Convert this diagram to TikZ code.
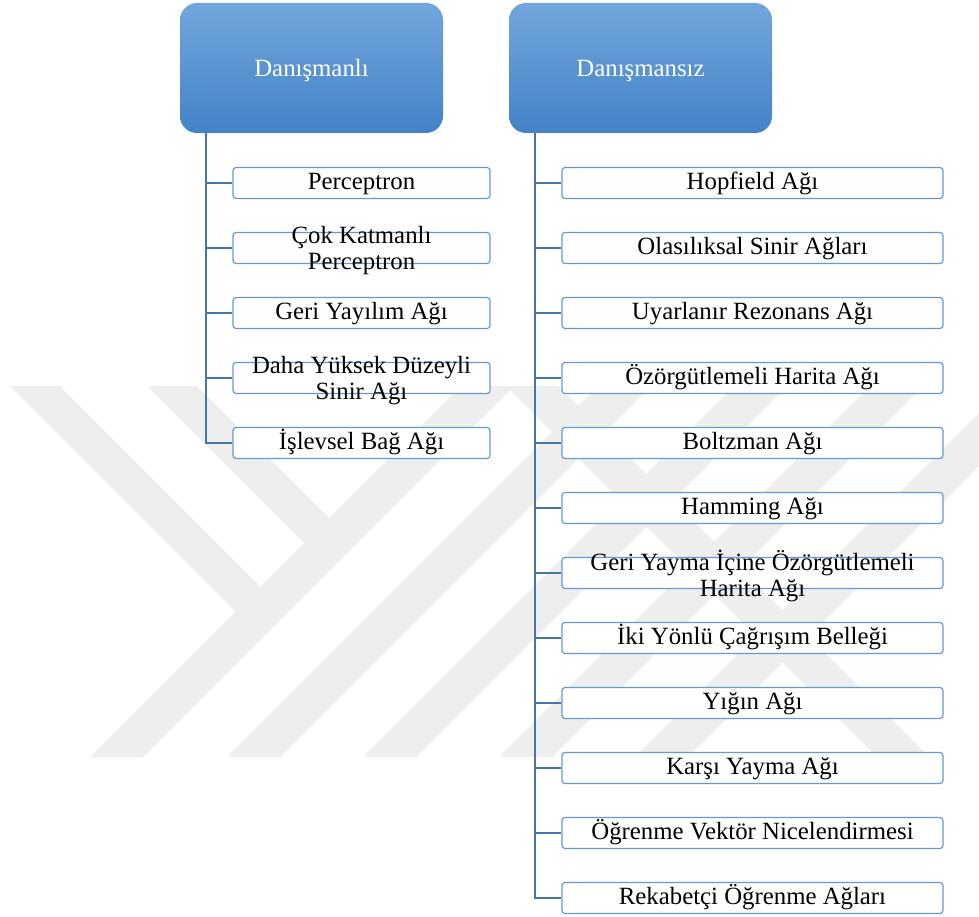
\documentclass[tikz,border=0pt]{standalone}
\usepackage{fontspec}
\setmainfont{Liberation Serif}
\definecolor{hdrtop}{RGB}{114,166,219}
\definecolor{hdrbot}{RGB}{66,131,200}
\definecolor{boxline}{RGB}{98,153,214}
\definecolor{treeline}{RGB}{70,117,170}
\definecolor{markgray}{RGB}{238,238,238}
\begin{document}
\begin{tikzpicture}[x=1pt,y=-1pt,
  header/.style={rounded corners=17pt, top color=hdrtop, bottom color=hdrbot,
    draw=none, minimum width=263pt, minimum height=130pt, text=white,
    text height=22pt, text depth=4pt,
    font=\fontsize{24.8}{27}\selectfont, inner sep=0pt},
  leaf/.style={draw=boxline, line width=1.2pt, fill=white, rounded corners=3pt,
    minimum height=31pt, inner sep=0pt, text height=18pt, text depth=5pt,
    font=\fontsize{24.8}{26}\selectfont},
  lleaf/.style={leaf, minimum width=257pt},
  rleaf/.style={leaf, minimum width=381pt},
  leaftext/.style={align=center, inner sep=0pt, font=\fontsize{24.8}{26}\selectfont},
  trunk/.style={draw=treeline, line width=2pt},
  stripe/.style={fill=markgray, draw=none}]
\useasboundingbox (0,0) rectangle (979,917);

% faint background emblem made of diagonal stripes
\begin{scope}
  \clip (0,386) rectangle (979,757);
  \foreach \s in {847,984,1120,1256,1392}{
    \fill[stripe] (\s-386,386) -- (\s+53-386,386) -- (\s+53-757,757) -- (\s-757,757) -- cycle;
  }
  \fill[stripe] (10,386) -- (60,386) -- (260.5,586.5) -- (235.5,611.5) -- cycle;
  \fill[stripe] (147,386) -- (197,386) -- (329,518) -- (304,543) -- cycle;
  \fill[stripe] (506,386) -- (558,386) -- (929,757) -- (877,757) -- cycle;
\end{scope}

% category headers
\node[header] (h1) at (311.5,68) {Danışmanlı};
\node[header] (h2) at (640.5,68) {Danışmansız};
\coordinate (t1) at ([xshift=26pt]h1.south west);
\coordinate (t2) at ([xshift=26pt]h2.south west);

% supervised branch
\node[lleaf] (l1) at (361.5,183) {Perceptron};
\node[lleaf] (l2) at (361.5,248) {};
\node[leaftext] (l2t) at ([yshift=-3pt]l2.center) {Çok Katmanlı\\Perceptron};
\node[lleaf] (l3) at (361.5,313) {Geri Yayılım Ağı};
\node[lleaf] (l4) at (361.5,378) {};
\node[leaftext] (l4t) at ([yshift=-3pt]l4.center) {Daha Yüksek Düzeyli\\Sinir Ağı};
\node[lleaf] (l5) at (361.5,443) {İşlevsel Bağ Ağı};

% unsupervised branch
\node[rleaf] (r1) at (752.5,183) {Hopfield Ağı};
\node[rleaf] (r2) at (752.5,248) {Olasılıksal Sinir Ağları};
\node[rleaf] (r3) at (752.5,313) {Uyarlanır Rezonans Ağı};
\node[rleaf] (r4) at (752.5,378) {Özörgütlemeli Harita Ağı};
\node[rleaf] (r5) at (752.5,443) {Boltzman Ağı};
\node[rleaf] (r6) at (752.5,508) {Hamming Ağı};
\node[rleaf] (r7) at (752.5,573) {};
\node[leaftext] (r7t) at ([yshift=-3pt]r7.center) {Geri Yayma İçine Özörgütlemeli\\Harita Ağı};
\node[rleaf] (r8) at (752.5,638) {İki Yönlü Çağrışım Belleği};
\node[rleaf] (r9) at (752.5,703) {Yığın Ağı};
\node[rleaf] (r10) at (752.5,768) {Karşı Yayma Ağı};
\node[rleaf] (r11) at (752.5,833) {Öğrenme Vektör Nicelendirmesi};
\node[rleaf] (r12) at (752.5,898) {Rekabetçi Öğrenme Ağları};

% tree connectors
\foreach \k in {1,...,5}{ \draw[trunk] (t1) |- (l\k.west); }
\foreach \k in {1,...,12}{ \draw[trunk] (t2) |- (r\k.west); }
\end{tikzpicture}
\end{document}
